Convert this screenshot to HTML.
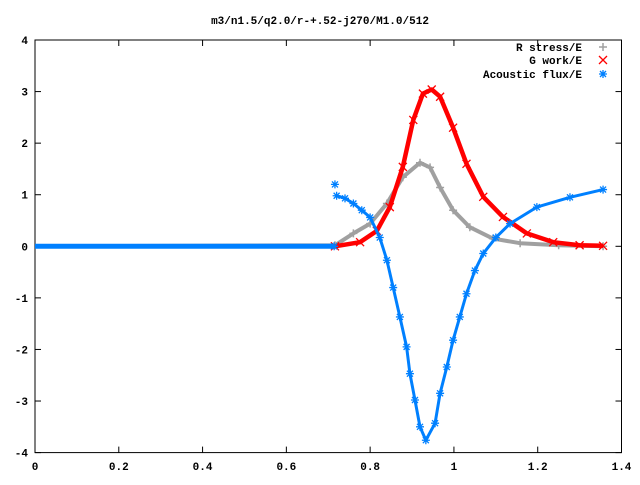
<!DOCTYPE html>
<html><head><meta charset="utf-8"><style>
body{margin:0;background:#fff}
svg text{font-family:"Liberation Mono",monospace;font-size:11px;font-weight:bold;fill:#000}
</style></head><body>
<svg id="chart" width="640" height="480" xmlns="http://www.w3.org/2000/svg">
<rect width="640" height="480" fill="#fff"/>
<text x="320" y="24" text-anchor="middle">m3/n1.5/q2.0/r-+.52-j270/M1.0/512</text>
<g id="axes"></g>
<g id="series"></g>
<g id="legend">
<text x="582" y="51" text-anchor="end">R stress/E</text>
<text x="582" y="64" text-anchor="end">G work/E</text>
<text x="582" y="78" text-anchor="end">Acoustic flux/E</text>
</g>
</svg>
<script>
const xTicks=[0,0.2,0.4,0.6,0.8,1,1.2,1.4];
const xTickLabels=["0","0.2","0.4","0.6","0.8","1","1.2","1.4"];
const yTicks=[-4,-3,-2,-1,0,1,2,3,4];
const stressX=[0,0.716,0.76,0.80,0.84,0.878,0.919,0.943,0.967,0.998,1.038,1.093,1.158,1.25,1.356];
const stressY=[0,0.02,0.25,0.44,0.83,1.34,1.62,1.53,1.14,0.70,0.37,0.15,0.06,0.02,0];
const gworkX=[0,0.716,0.776,0.816,0.847,0.878,0.903,0.926,0.947,0.967,0.998,1.03,1.07,1.117,1.174,1.237,1.30,1.356];
const gworkY=[0,0,0.08,0.30,0.76,1.54,2.45,2.96,3.04,2.90,2.30,1.60,0.96,0.57,0.25,0.08,0.02,0.01];
const fluxFlatX=[0,0.714];
const fluxFlatY=[0,0];
const fluxStartX=[0.716];
const fluxStartY=[1.2];
const fluxX=[0.72,0.74,0.76,0.78,0.80,0.823,0.84,0.855,0.871,0.887,0.895,0.907,0.919,0.933,0.955,0.967,0.983,0.998,1.014,1.03,1.05,1.07,1.10,1.134,1.198,1.277,1.356];
const fluxY=[0.98,0.93,0.83,0.70,0.56,0.17,-0.27,-0.8,-1.37,-1.95,-2.47,-2.98,-3.5,-3.76,-3.43,-2.85,-2.34,-1.82,-1.37,-0.92,-0.47,-0.14,0.17,0.44,0.76,0.95,1.1];
const L=35,R=621.5,T=40,B=452.6;
const sx=v=>L+(v-0)/1.4*(R-L);
const sy=v=>B-(v+4)/8*(B-T);
const NS="http://www.w3.org/2000/svg";
function mk(tag,attrs,parent){const e=document.createElementNS(NS,tag);for(const k in attrs)e.setAttribute(k,attrs[k]);parent.appendChild(e);return e;}
const ax=document.getElementById('axes');
const frame=mk('rect',{x:L,y:T,width:R-L,height:B-T,fill:'none',stroke:'#000','stroke-width':1},ax);


xTicks.forEach((t,i)=>{const x=sx(t);
 mk('line',{x1:x,y1:B,x2:x,y2:B-6,stroke:'#000'},ax);
 mk('line',{x1:x,y1:T,x2:x,y2:T+6,stroke:'#000'},ax);
 const tx=mk('text',{x:x,y:470,'text-anchor':'middle'},ax);tx.textContent=xTickLabels[i];
 
 
});
yTicks.forEach(t=>{const y=sy(t);
 mk('line',{x1:L,y1:y,x2:L+6,y2:y,stroke:'#000'},ax);
 mk('line',{x1:R,y1:y,x2:R-6,y2:y,stroke:'#000'},ax);
 const tx=mk('text',{x:28,y:y+4,'text-anchor':'end'},ax);tx.textContent=String(t);
 
 
});
const sg=document.getElementById('series');
function marker(kind,x,y,c,g){
 if(kind==='plus'){mk('path',{d:`M${x-4} ${y}H${x+4}M${x} ${y-4}V${y+4}`,stroke:c,'stroke-width':1.5,fill:'none'},g);}
 else if(kind==='cross'){mk('path',{d:`M${x-4} ${y-4}L${x+4} ${y+4}M${x-4} ${y+4}L${x+4} ${y-4}`,stroke:c,'stroke-width':1.3,fill:'none'},g);}
 else {mk('path',{d:`M${x-4} ${y}H${x+4}M${x} ${y-4}V${y+4}M${x-3} ${y-3}L${x+3} ${y+3}M${x-3} ${y+3}L${x+3} ${y-3}`,stroke:c,'stroke-width':1.3,fill:'none'},g);}
}
function series(name,xs,ys,c,kind,w,line){
 const g=mk('g',{},sg);
 
 
 if(line)mk('polyline',{points:xs.map((v,i)=>sx(v)+','+sy(ys[i])).join(' '),fill:'none',stroke:c,'stroke-width':w,'stroke-linejoin':'round'},g);
 xs.forEach((v,i)=>{if(v>0.5)marker(kind,sx(v),sy(ys[i]),c,g);});
}
series('series-r-stress',stressX,stressY,'#a0a0a0','plus',4,true);
series('series-g-work',gworkX,gworkY,'#ff0000','cross',4.5,true);
series('series-acoustic-flux-flat',fluxFlatX,fluxFlatY,'#0080ff','star',5,true);
series('series-acoustic-flux-start',fluxStartX,fluxStartY,'#0080ff','star',3,false);
series('series-acoustic-flux',fluxX,fluxY,'#0080ff','star',3,true);
const lg=document.getElementById('legend');
marker('plus',603,47,'#a0a0a0',lg);
marker('cross',603,60,'#ff0000',lg);
marker('star',603,74,'#0080ff',lg);
</script>
</body></html>
